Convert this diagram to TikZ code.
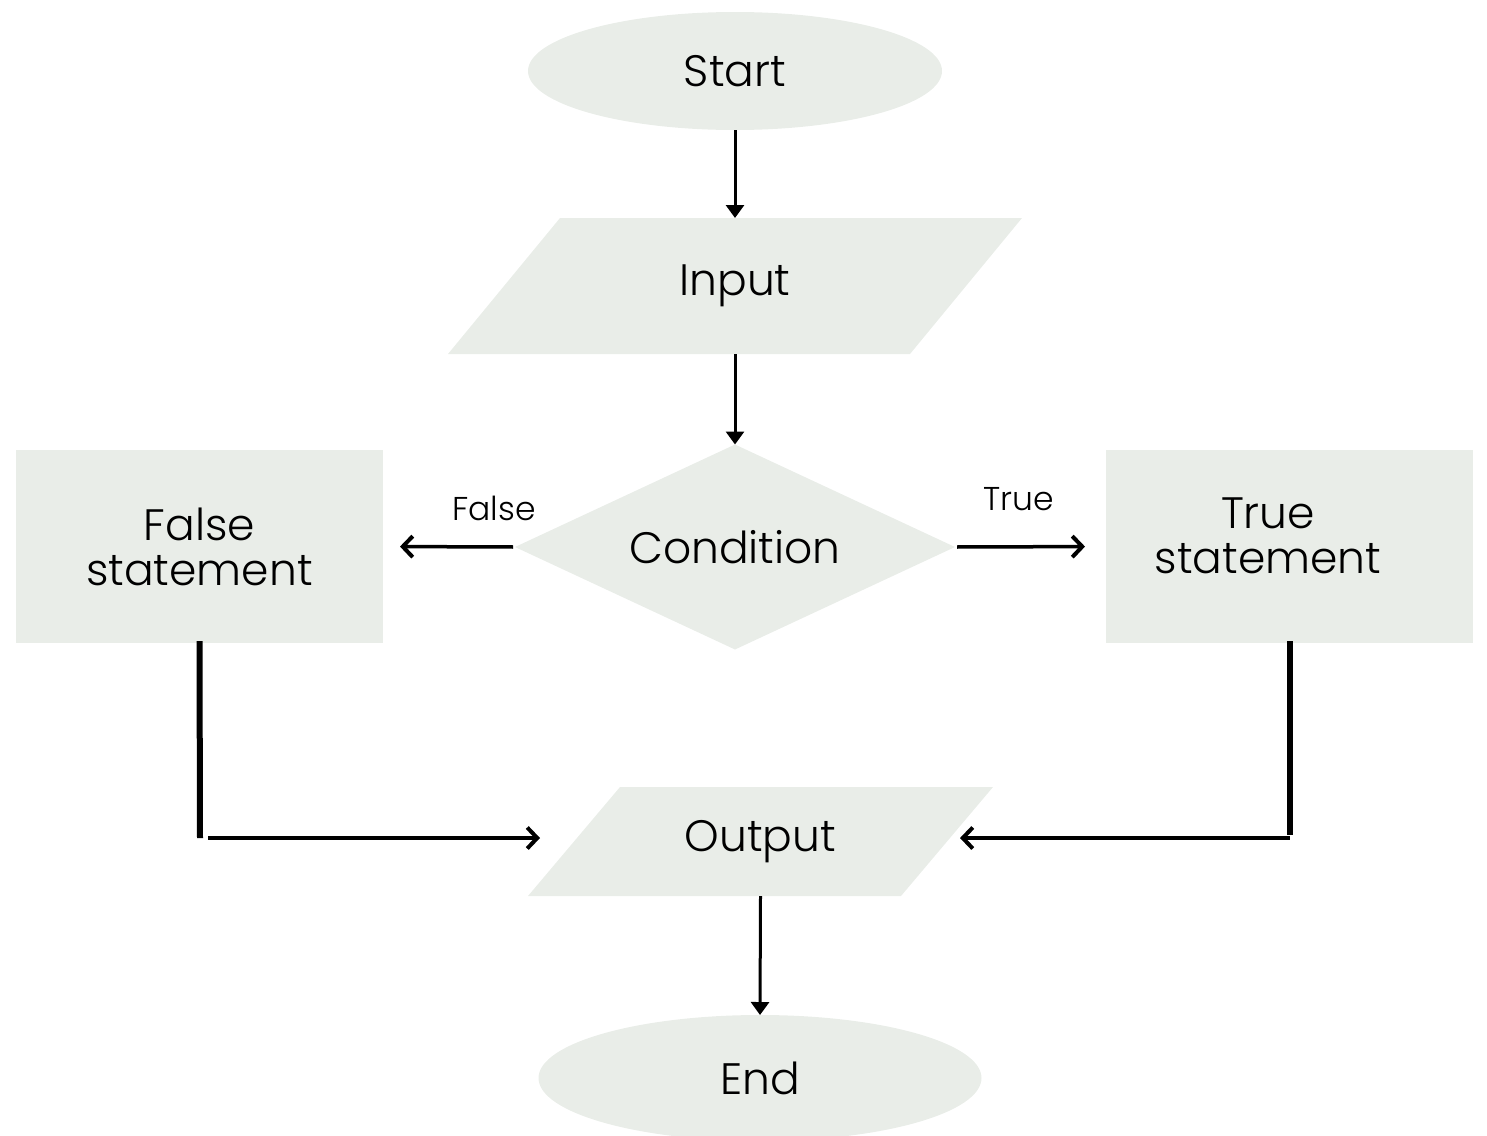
\documentclass[tikz,border=0pt]{standalone}
\usepackage{fontspec}
\setmainfont{Poppins Light}
\usetikzlibrary{shapes.geometric,arrows.meta,backgrounds}
\definecolor{shapefill}{RGB}{233,237,232}
\begin{document}
\begin{tikzpicture}[x=1pt,y=-1pt,
  base/.style={fill=shapefill,draw=none,inner sep=0pt,outer sep=0pt,
    font=\fontsize{44}{45}\selectfont,align=center},
  terminal/.style={base,ellipse},
  iobox/.style={base,fill=none,rectangle},
  decision/.style={base,diamond,shape aspect=2.15},
  process/.style={base,rectangle},
  txt/.style={inner sep=0pt,font=\fontsize{44}{45}\selectfont,align=center},
  flow/.style={line width=3pt,-{Triangle[length=13pt,width=18pt]}},
  branch/.style={line width=3.5pt,-{Straight Barb[length=10pt,width=21pt,line width=4pt]}},
  stem/.style={line width=6pt},
  lbl/.style={font=\fontsize{33}{33}\selectfont,inner sep=0pt}]
\useasboundingbox (0,0) rectangle (1487,1135);
\clip (0,0) rectangle (1487,1135);

% shapes
\node[terminal,minimum width=414pt,minimum height=118pt] (start) at (735,71) {Start};
\node[iobox,minimum width=462pt,minimum height=136pt] (input) at (735,286) {Input};
\node[decision,minimum width=440pt,minimum height=205pt] (cond) at (735,547) {Condition};
\node[process,minimum width=367pt,minimum height=193pt] (fbox) at (199.5,546.5) {False\\statement};
\node[process,minimum width=367pt,minimum height=193pt] (tbox) at (1289.5,546.5) {};
\node[txt] (ttext) at (1268,536) {True\\statement};
\node[iobox,minimum width=373pt,minimum height=109pt] (out) at (760.5,841.5) {Output};
\node[terminal,minimum width=443pt,minimum height=126pt] (end) at (760,1078) {End};

% slanted input/output bodies behind their labels
\begin{scope}[on background layer]
  \fill[shapefill] ([xshift=-56pt]input.south west) -- ([xshift=-56pt]input.south east)
    -- ([xshift=56pt]input.north east) -- ([xshift=56pt]input.north west) -- cycle;
  \fill[shapefill] ([xshift=-46pt]out.south west) -- ([xshift=-46pt]out.south east)
    -- ([xshift=46pt]out.north east) -- ([xshift=46pt]out.north west) -- cycle;
\end{scope}

% branch labels
\node[lbl] (lfalse) at (494,508) {False};
\node[lbl] (ltrue) at (1019,499) {True};

% bends of the return paths
\coordinate (fc) at (200,838);
\coordinate (tc) at (1289.5,838);

% connectors
\draw[flow] (start.south) -- (input.north);
\draw[flow] (input.south) -- (cond.north);
\draw[branch,shorten <=2pt,shorten >=17pt] (cond.west) -- (fbox.east);
\draw[branch,shorten <=2pt,shorten >=21pt] (cond.east) -- (tbox.west);
\draw[stem] ([yshift=2pt]fbox.south) -- (fc);
\draw[branch,shorten >=34pt] ([xshift=8pt]fc) -- (fc -| out.west);
\draw[stem] ([yshift=2pt]tbox.south) -- ([yshift=3pt]tc);
\draw[branch,shorten >=13pt] (tc) -- (tc -| out.east);
\draw[flow] (out.south) -- (end.north);
\end{tikzpicture}
\end{document}
